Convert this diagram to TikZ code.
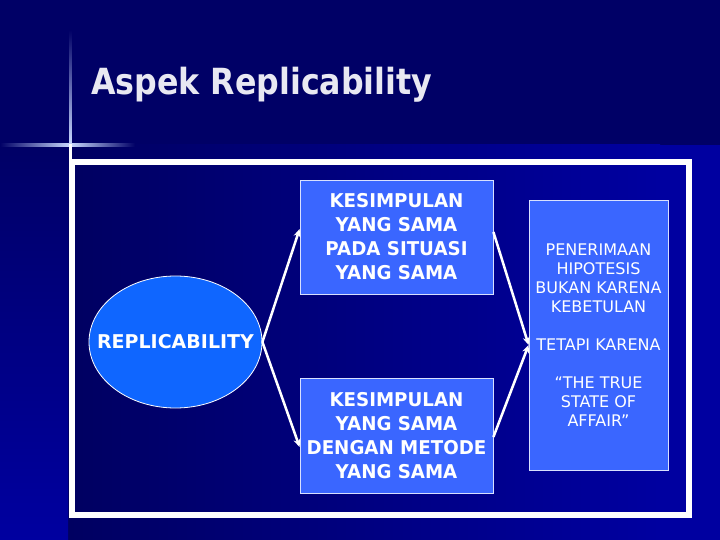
\documentclass[tikz,border=0pt]{standalone}
\usepackage{fontspec}
\setmainfont{DejaVu Sans}
\newfontfamily\titlefont[FakeStretch=0.88]{DejaVu Sans}
\newfontfamily\boxfont[FakeStretch=0.96]{DejaVu Sans}
\usetikzlibrary{shapes.geometric,arrows.meta,calc}
\definecolor{navy}{RGB}{0,0,102}
\definecolor{bright}{RGB}{0,0,160}
\definecolor{boxblue}{RGB}{58,102,255}
\definecolor{ellblue}{RGB}{15,102,255}
\definecolor{titlecol}{RGB}{232,232,242}
\definecolor{glow}{RGB}{120,160,255}
\tikzset{
  boxnode/.style={rectangle, fill=boxblue, draw=white!80!boxblue, line width=0.8pt,
    inner sep=0pt, align=center, text=white},
  boldtxt/.style={font=\boxfont\bfseries\fontsize{19}{24}\selectfont},
  plaintxt/.style={font=\fontsize{16}{19}\selectfont},
  arr/.style={draw=white, line width=2.5pt, -{Stealth[length=8pt,width=7pt]}},
}
\begin{document}
\begin{tikzpicture}[x=1pt,y=-1pt]
\useasboundingbox (0,0) rectangle (720,540);
% background
\fill[navy] (0,0) rectangle (720,540);
\shade[left color=navy!95!black, right color=bright] (68,145) rectangle (660,540);
\fill[bright] (659,145) rectangle (720,540);
\shade[top color=navy, bottom color=bright] (0,145) rectangle (68,540);
% glow lines
\shade[left color=navy, right color=glow!40!white] (0,144) rectangle (70,146.5);
\shade[left color=glow!40!white, right color=navy] (70,144) rectangle (135,146.5);
\shade[top color=navy, bottom color=glow!40!white] (69,30) rectangle (71.5,145);
\fill[white] (69,144) rectangle (71.5,160);
% frame
\draw[white, line width=6pt] (72,162) rectangle (689,515);
% title
\node[anchor=base west, inner sep=0pt, text=titlecol, font=\titlefont\bfseries\fontsize{36}{40}\selectfont] (title) at (91,95) {Aspek Replicability};
% ellipse
\node[ellipse, fill=ellblue, draw=white, line width=0.8pt, minimum width=173pt, minimum height=132pt, inner sep=0pt] (rep) at (175.5,342) {};
\node[boldtxt, text=white, font=\bfseries\fontsize{19}{24}\selectfont] (reptxt) at (rep.center) {REPLICABILITY};
% boxes
\node[boxnode, boldtxt, minimum width=193pt, minimum height=114pt] (b1) at (396.5,237) {KESIMPULAN\\YANG SAMA\\PADA SITUASI\\YANG SAMA};
\node[boxnode, boldtxt, minimum width=193pt, minimum height=115pt] (b2) at (396.5,435.5) {KESIMPULAN\\YANG SAMA\\DENGAN METODE\\YANG SAMA};
\node[boxnode, plaintxt, minimum width=139pt, minimum height=270pt] (b3) at (598.5,335) {PENERIMAAN\\HIPOTESIS\\BUKAN KARENA\\KEBETULAN\\[19pt]TETAPI KARENA\\[19pt]“THE TRUE\\STATE OF\\AFFAIR”};
% arrows
\draw[arr] (rep.east) -- ($(b1.west)+(0,-8)$);
\draw[arr] (rep.east) -- ($(b2.west)+(0,11.5)$);
\draw[arr] ($(b1.east)+(0,-5)$) -- ($(b3.west)+(0,10)$);
\draw[arr] ($(b2.east)+(0,1.5)$) -- ($(b3.west)+(0,10)$);
\end{tikzpicture}
\end{document}
